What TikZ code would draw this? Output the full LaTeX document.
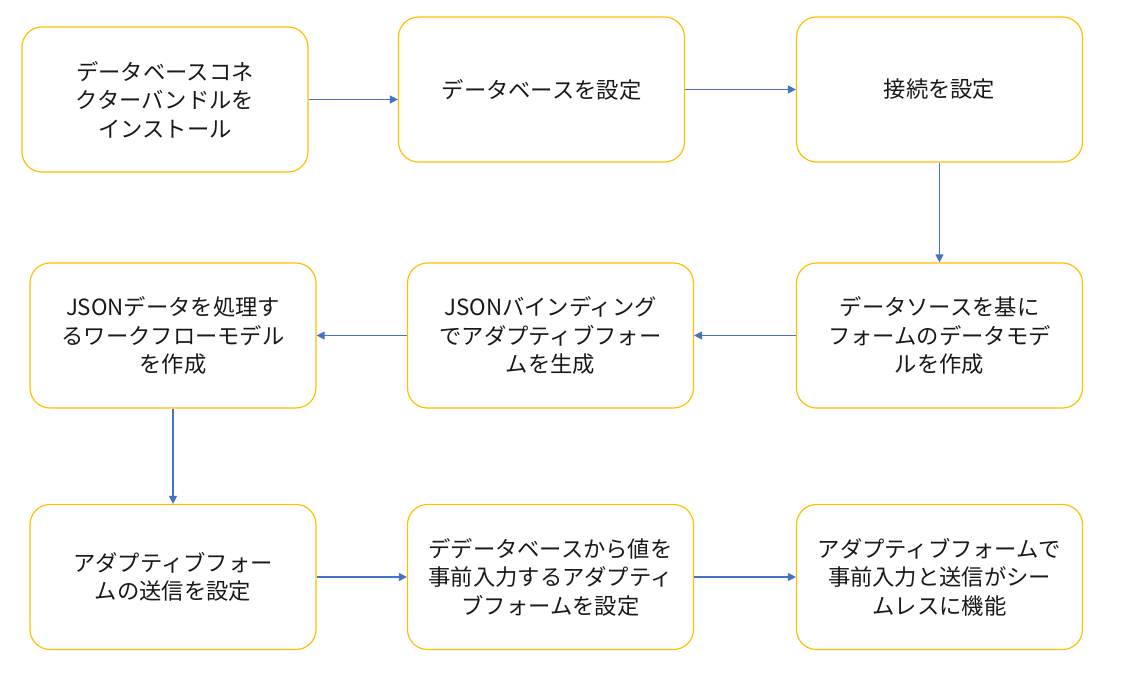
\documentclass[tikz,border=0pt]{standalone}
\usepackage{fontspec}
\setmainfont{Noto Sans CJK JP}
\usetikzlibrary{arrows.meta}
\definecolor{boxgold}{HTML}{FFC000}
\definecolor{arrblue}{HTML}{4472C4}
\tikzset{
  flowbox/.style={draw=boxgold, line width=1.2pt, rounded corners=20pt, fill=white,
    minimum width=286pt, minimum height=145pt, align=center, inner sep=0pt,
    font=\fontsize{22.3pt}{28.5pt}\selectfont, text=black!90},
  flowarrow/.style={draw=arrblue, line width=1.3pt, -{Triangle[length=8pt,width=8pt]}}
}
\begin{document}
\begin{tikzpicture}[x=1pt,y=-1pt]
\useasboundingbox (0,0) rectangle (1126,677);
\node[flowbox] (b1) at (165,99.5) {データベースコネ\\クターバンドルを\\インストール};
\node[flowbox] (b2) at (541.5,89.5) {データベースを設定};
\node[flowbox] (b3) at (939.5,89.5) {接続を設定};
\node[flowbox] (b4) at (173,335.5) {JSONデータを処理す\\るワークフローモデル\\を作成};
\node[flowbox] (b5) at (550.5,335.5) {JSONバインディング\\でアダプティブフォー\\ムを生成};
\node[flowbox] (b6) at (939.5,335.5) {データソースを基に\\フォームのデータモデ\\ルを作成};
\node[flowbox] (b7) at (173,577) {アダプティブフォー\\ムの送信を設定};
\node[flowbox] (b8) at (550.5,577) {デデータベースから値を\\事前入力するアダプティ\\ブフォームを設定};
\node[flowbox] (b9) at (939.5,577) {アダプティブフォームで\\事前入力と送信がシー\\ムレスに機能};
\coordinate (a1) at (b1.east);
\draw[flowarrow] (a1) -- (a1 -| b2.west);
\draw[flowarrow] (b2.east) -- (b3.west);
\draw[flowarrow] (b3.south) -- (b6.north);
\draw[flowarrow] (b6.west) -- (b5.east);
\draw[flowarrow] (b5.west) -- (b4.east);
\draw[flowarrow] (b4.south) -- (b7.north);
\draw[flowarrow] (b7.east) -- (b8.west);
\draw[flowarrow] (b8.east) -- (b9.west);
\end{tikzpicture}
\end{document}
